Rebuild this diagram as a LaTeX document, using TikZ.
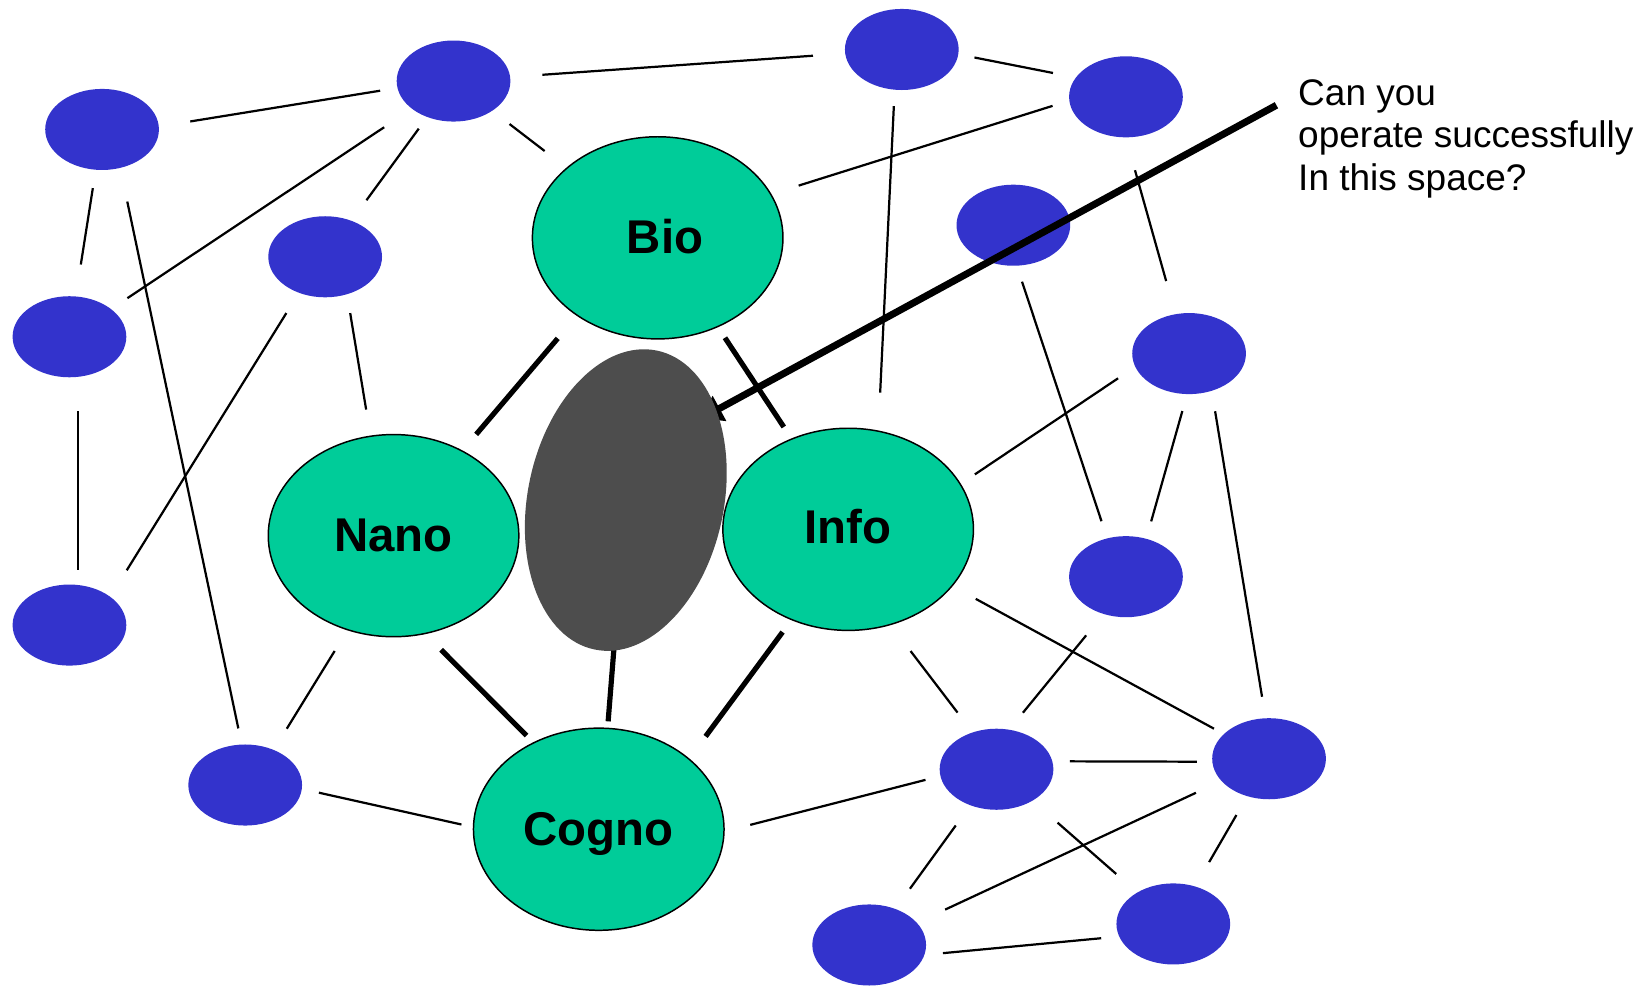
\documentclass[tikz,border=0pt]{standalone}
\usepackage{fontspec}
\setmainfont{Liberation Sans}
\usetikzlibrary{shapes.geometric,arrows.meta}
\definecolor{nodeblue}{HTML}{3333CC}
\definecolor{nodegreen}{HTML}{00CC99}
\definecolor{nodegray}{HTML}{4D4D4D}
\pgfdeclarelayer{front}
\pgfsetlayers{main,front}
\begin{document}
\begin{tikzpicture}[x=0.01cm,y=-0.01cm,
  bluenode/.style={ellipse, fill=nodeblue, minimum width=1.08cm, minimum height=0.77cm, inner sep=0pt},
  greennode/.style={ellipse, draw=black, line width=0.4pt, fill=nodegreen, minimum width=2.38cm, minimum height=1.92cm, inner sep=0pt, text depth=0pt, font=\fontsize{12.8}{15}\selectfont\bfseries},
  graynode/.style={ellipse, fill=nodegray, minimum width=1.862cm, minimum height=2.90cm, inner sep=0pt, rotate=-11.8},
  lk/.style={line width=0.6pt, black},
  tlk/.style={line width=1.4pt, black},
  asktext/.style={font=\fontsize{10}{11.4}\selectfont, align=left, inner sep=0pt, anchor=base west},
  bigarrow/.style={line width=1.9pt, black, -{Triangle[length=0.2cm,width=0.26cm]}}
]
\fill[white] (0,0) rectangle (1568,938);
\useasboundingbox (0,0) rectangle (1568,938);

% blue nodes
\node[bluenode] (b1) at (97,123) {};
\node[bluenode] (b2) at (431,77) {};
\node[bluenode] (b3) at (857,47) {};
\node[bluenode] (b4) at (1070,92) {};
\node[bluenode] (b5) at (309,244) {};
\node[bluenode] (b6) at (66,320) {};
\node[bluenode] (b7) at (963,214) {};
\node[bluenode] (b8) at (1130,336) {};
\node[bluenode] (b9) at (66,594) {};
\node[bluenode] (b10) at (1070,548) {};
\node[bluenode] (b11) at (233,746) {};
\node[bluenode] (b12) at (947,731) {};
\node[bluenode] (b13) at (1206,721) {};
\node[bluenode] (b14) at (826,898) {};
\node[bluenode] (b15) at (1115,878) {};

% green nodes
\node[greennode] (bio) at (625,226) {\hspace*{0.14cm}\raisebox{0.035cm}{Bio}};
\node[greennode] (nano) at (374,509) {Nano};
\node[greennode] (info) at (806,503) {\raisebox{0.06cm}{Info}};
\node[greennode] (cogno) at (569,788) {Cogno};

% gray node on top
\begin{pgfonlayer}{front}
\node[graynode] (gray) at (594.7,475.2) {};
\end{pgfonlayer}

% text
\node[asktext] (ask) at (1233,180.6) {Can you\\operate successfully\\In this space?};
\coordinate (askpt) at (1213,100);
\coordinate (arrowtip) at (666.2,397.7);

% thin connectors
\draw[lk, shorten <=0.296cm, shorten >=0.16cm] (b1.3.6) -- (b2.-173);
\draw[lk, shorten <=0.30cm, shorten >=0.30cm] (b2) -- (b3);
\draw[lk, shorten <=0.15cm, shorten >=0.215cm] (b3.-5.5) -- (b4.159.6);
\draw[lk, shorten <=0.20cm, shorten >=0.26cm] (b2) -- (bio);
\draw[lk, shorten <=0.31cm, shorten >=0.18cm] (b2) -- (b6);
\draw[lk, shorten <=0.13cm, shorten >=0.235cm] (b2) -- (b5);
\draw[lk, shorten <=0.17cm, shorten >=0.30cm] (b1) -- (b6);
\draw[lk, shorten <=0.32cm, shorten >=0.15cm] (b1.-65.9) -- (b11.95.8);
\draw[lk, shorten <=0.16cm, shorten >=0.27cm] (b4.-176.5) -- (bio.21.3);
\draw[lk, shorten <=0.15cm, shorten >=0.36cm] (b3.-100.7) -- (info.73.8);
\draw[lk, shorten <=0.317cm, shorten >=0.32cm] (b4.-90.8) -- (b8.109.7);
\draw[lk, shorten <=0.175cm, shorten >=0.25cm] (b5.-60.8) -- (nano.103);
\draw[lk, shorten <=0.22cm, shorten >=0.29cm] (b5.-126.6) -- (b9.35);
\draw[lk, shorten <=0.32cm, shorten >=0.14cm] (b6.-78.1) -- (b9.78.1);
\draw[lk, shorten <=0.153cm, shorten >=0.165cm] (b7.-85.4) -- (b10.116.1);
\draw[lk, shorten <=0.19cm, shorten >=0.16cm] (b8.-166.3) -- (info.22.7);
\draw[lk, shorten <=0.16cm, shorten >=0.165cm] (b8.-93.9) -- (b10.62.9);
\draw[lk, shorten <=0.19cm, shorten >=0.20cm] (b8.-59.5) -- (b13.95.6);
\draw[lk, shorten <=0.25cm, shorten >=0.10cm] (info) -- (b13);
\draw[lk, shorten <=0.31cm, shorten >=0.23cm] (info.-66.5) -- (b12.123.5);
\draw[lk, shorten <=0.255cm, shorten >=0.20cm] (b10.-121.9) -- (b12.72.9);
\draw[lk, shorten <=0.23cm, shorten >=0.23cm] (nano.-116.2) -- (b11.51);
\draw[lk, shorten <=0.16cm, shorten >=0.11cm] (b11.-4.9) -- (cogno.179.2);
\draw[lk, shorten <=0.25cm, shorten >=0.14cm] (cogno.-1) -- (b12.-173.1);
\draw[lk, shorten <=0.16cm, shorten >=0.14cm] (b12.8.6) -- (b13.-177.9);
\draw[lk, shorten <=0.23cm, shorten >=0.23cm] (b12) -- (b14);
\draw[lk, shorten <=0.31cm, shorten >=0.26cm] (b12) -- (b15);
\draw[lk, shorten <=0.26cm, shorten >=0.29cm] (b13) -- (b14);
\draw[lk, shorten <=0.20cm, shorten >=0.26cm] (b13) -- (b15);
\draw[lk, shorten <=0.17cm, shorten >=0.165cm] (b14.-10.5) -- (b15.-167.5);

% thick connectors
\draw[tlk, shorten <=0.28cm, shorten >=0.20cm] (bio.-136.2) -- (nano.51.6);
\draw[tlk, shorten <=0.12cm, shorten >=0.13cm] (bio.-56.4) -- (info.122.8);
\draw[tlk, shorten <=0.21cm, shorten >=0.09cm] (nano.-72.7) -- (cogno.127.5);
\draw[tlk, shorten <=0.14cm, shorten >=0.26cm] (info.-122.1) -- (cogno.38.1);
\draw[tlk, shorten >=0.06cm] (gray.center) -- (cogno.85.6);

% question arrow
\draw[bigarrow] (askpt) -- (arrowtip);
\end{tikzpicture}
\end{document}
